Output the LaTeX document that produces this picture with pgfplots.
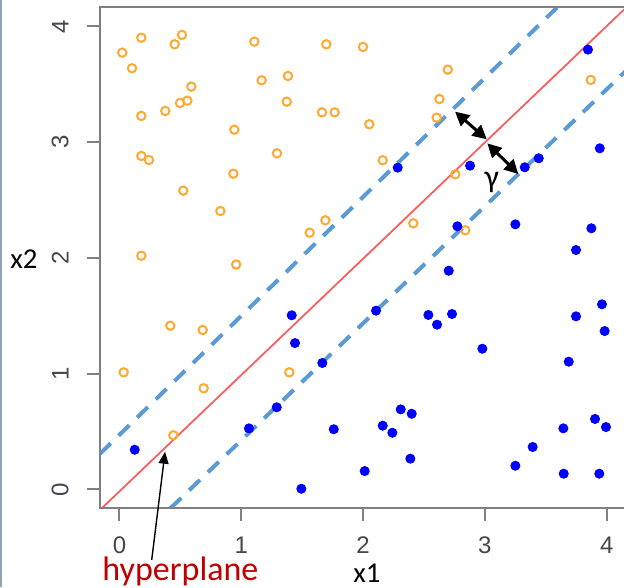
\documentclass[border=0pt]{standalone}
\usepackage{fontspec}
\setmainfont{Liberation Sans}
\newfontfamily\calib{Carlito}
\usepackage{pgfplots}
\pgfplotsset{compat=1.18}
\usetikzlibrary{arrows.meta}
\definecolor{orng}{RGB}{255,168,50}
\definecolor{blu}{RGB}{0,0,255}
\definecolor{dashblue}{RGB}{91,155,213}
\definecolor{redline}{RGB}{250,95,95}
\definecolor{axgray}{RGB}{128,128,128}
\definecolor{ticktext}{RGB}{70,70,80}
\definecolor{hpred}{RGB}{192,0,0}
\definecolor{bordercol}{RGB}{140,165,180}
\begin{document}
\begin{tikzpicture}
\begin{axis}[
  at={(50pt,-254.15pt)}, anchor=south west,
  scale only axis, width=263.1pt, height=250.4pt,
  xmin=-0.16, xmax=4.16, ymin=-0.164, ymax=4.164,
  axis line style={draw=none},
  tick pos=left,
  tick align=outside,
  major tick length=6.5pt,
  tick style={axgray, line width=1pt},
  xtick={0,1,2,3,4}, ytick={0,1,2,3,4},
  /pgf/number format/assume math mode=true,
  ticklabel style={font=\fontsize{12}{14}\selectfont, text=ticktext},
  xticklabel style={anchor=north, inner sep=0pt, yshift=-7.5pt},
  yticklabel style={rotate=90, anchor=south, inner sep=0pt, yshift=9pt},
]
\addplot[only marks, mark=o, mark size=2.1pt, orng, mark options={line width=1pt}] table {
x y
0.179 3.903
0.513 3.927
0.453 3.846
0.023 3.774
0.103 3.639
0.590 3.480
0.557 3.359
0.497 3.339
0.376 3.270
0.179 3.227
0.943 3.108
0.179 2.881
0.242 2.846
0.935 2.728
0.524 2.581
0.828 2.405
0.179 2.019
1.107 3.869
1.698 3.846
1.999 3.823
1.167 3.535
1.383 3.572
1.373 3.350
1.663 3.258
1.767 3.258
2.051 3.155
1.293 2.904
1.690 2.325
1.561 2.218
0.958 1.943
2.695 3.627
2.626 3.373
2.604 3.212
2.161 2.844
2.757 2.722
2.412 2.299
2.839 2.239
3.869 3.538
0.417 1.414
0.683 1.377
0.034 1.011
0.691 0.873
0.442 0.467
1.394 1.011
};
\addplot[only marks, mark=*, mark size=2.3pt, blu, mark options={draw=blu, fill=blu}] table {
x y
2.284 2.780
2.878 2.797
2.774 2.273
3.846 3.800
3.943 2.947
3.442 2.861
3.327 2.783
3.250 2.290
3.874 2.256
3.748 2.068
0.125 0.342
1.414 1.504
1.441 1.264
1.665 1.092
1.291 0.709
1.063 0.527
1.759 0.519
1.493 0.005
2.013 0.158
2.703 1.889
2.106 1.544
2.536 1.507
2.730 1.515
2.607 1.423
2.979 1.215
2.309 0.691
2.399 0.653
2.161 0.550
2.240 0.489
2.388 0.265
3.961 1.599
3.748 1.495
3.983 1.368
3.688 1.103
3.904 0.608
3.644 0.527
3.994 0.538
3.392 0.366
3.250 0.204
3.647 0.135
3.939 0.135
};
\addplot[redline, line width=0.9pt] coordinates {(-0.146,-0.164) (4.16,4.164)};
\addplot[dashblue, line width=2pt, dash pattern=on 7.5pt off 5.5pt] coordinates {(-0.16,0.307) (3.592,4.164)};
\addplot[dashblue, line width=2pt, dash pattern=on 7.5pt off 5.5pt] coordinates {(0.418,-0.164) (4.16,3.619)};
\draw[{Triangle[length=7pt,width=7pt]}-{Triangle[length=7pt,width=7pt]}, line width=1.5pt] (axis cs:2.755,3.264) -- (axis cs:3.015,3.025);
\draw[{Triangle[length=7pt,width=7pt]}-{Triangle[length=7pt,width=7pt]}, line width=1.5pt] (axis cs:3.020,2.990) -- (axis cs:3.274,2.725);
\node[font=\calib\fontsize{16}{18}\selectfont, inner sep=0pt] at (axis cs:3.056,2.65) {γ};
\coordinate (hp) at (axis cs:0.374,0.325);
\end{axis}
\draw[axgray, line width=1pt] (current axis.south east) -- (current axis.south west) -- (current axis.north west) -- (current axis.north east);
\draw[-{Triangle[length=6pt,width=5pt]}, line width=0.7pt] (75.85pt,-280pt) -- (hp);
\node[anchor=base west, inner sep=0pt, text=hpred, font=\calib\fontsize{17}{20}\selectfont] at (51pt,-290.3pt) {hyperplane};
\node[anchor=base, inner sep=0pt, font=\calib\fontsize{14.4}{16}\selectfont] at (183.5pt,-291pt) {x1};
\node[anchor=base west, inner sep=0pt, font=\calib\fontsize{14.4}{16}\selectfont] at (5pt,-134pt) {x2};
\draw[bordercol, line width=1pt] (0.5pt,0pt) -- (0.5pt,-293.5pt);
\pgfresetboundingbox
\path (0pt,0pt) rectangle (312pt,-293.5pt);
\end{tikzpicture}
\end{document}
